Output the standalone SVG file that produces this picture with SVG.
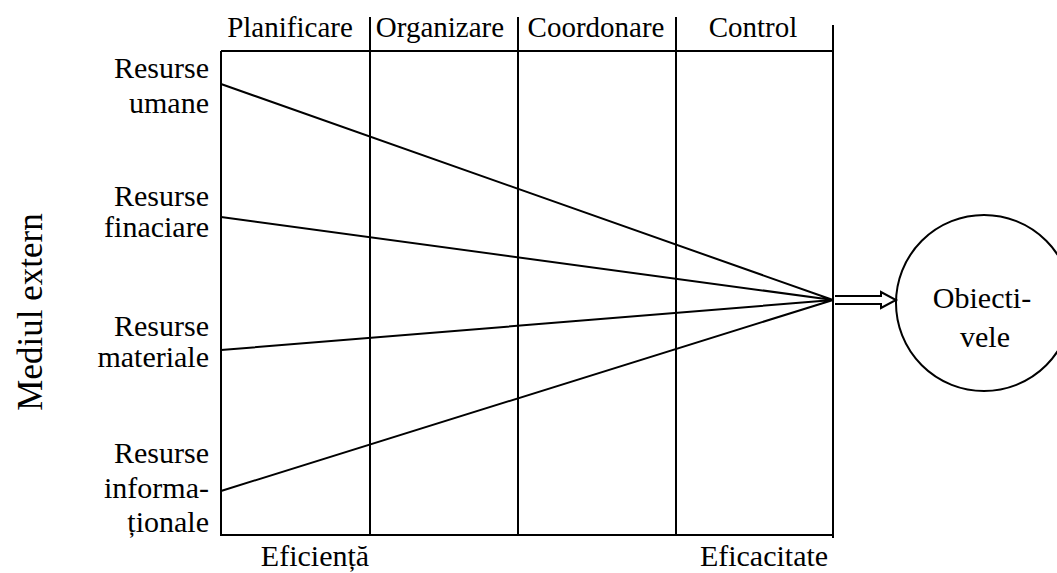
<svg xmlns="http://www.w3.org/2000/svg" width="1057" height="573" viewBox="0 0 1057 573">
  <style>
    .ln { stroke: #000; stroke-width: 2; fill: none; }
    .t { font-family: "Liberation Serif", "Times New Roman", serif; font-size: 30px; fill: #000; }
    .h { font-size: 29px; }
    .r { text-anchor: end; }
    .c { text-anchor: middle; }
  </style>
  <rect width="1057" height="573" fill="#fff"/>

  <!-- phase grid -->
  <g id="grid">
    <path class="ln" d="M221,51 H833 M221,51 V535 H833 M833,25 V538"/>
    <path class="ln" d="M370,17 V535 M518,17 V535 M676,17 V535"/>
  </g>

  <!-- column headers -->
  <g id="phases">
    <text class="t h c" x="290" y="37">Planificare</text>
    <text class="t h c" x="440" y="37">Organizare</text>
    <text class="t h c" x="596" y="37">Coordonare</text>
    <text class="t h c" x="753" y="37">Control</text>
  </g>

  <!-- resource inputs -->
  <g id="res-umane">
    <text class="t r" x="209" y="78">Resurse</text>
    <text class="t r" x="209" y="113">umane</text>
  </g>
  <g id="res-financiare">
    <text class="t r" x="209" y="206">Resurse</text>
    <text class="t r" x="209" y="237">finaciare</text>
  </g>
  <g id="res-materiale">
    <text class="t r" x="209" y="336">Resurse</text>
    <text class="t r" x="209" y="367">materiale</text>
  </g>
  <g id="res-informationale">
    <text class="t r" x="209" y="463">Resurse</text>
    <text class="t r" x="209" y="498">informa-</text>
    <text class="t r" x="209" y="532">ționale</text>
  </g>

  <!-- environment label -->
  <g id="mediu">
    <text class="t c" transform="translate(42,312) rotate(-90)" style="font-size:35px">Mediul extern</text>
  </g>

  <!-- objective -->
  <g id="obiective">
    <circle class="ln" cx="984" cy="303" r="88"/>
    <text class="t c" x="982" y="308">Obiecti-</text>
    <text class="t c" x="985" y="347">vele</text>
  </g>

  <!-- outcome labels -->
  <g id="rezultate">
    <text class="t c" x="315" y="566">Eficiență</text>
    <text class="t c" x="764" y="566">Eficacitate</text>
  </g>

  <!-- convergence lines and output arrow -->
  <g id="connectors">
    <path class="ln" d="M221,84 L833,300 M221,217 L833,300 M221,350 L833,300 M221,491 L833,300"/>
    <path class="ln" d="M835,296 H881 V292 L896,300 L881,308 V304 H835"/>
  </g>
</svg>
